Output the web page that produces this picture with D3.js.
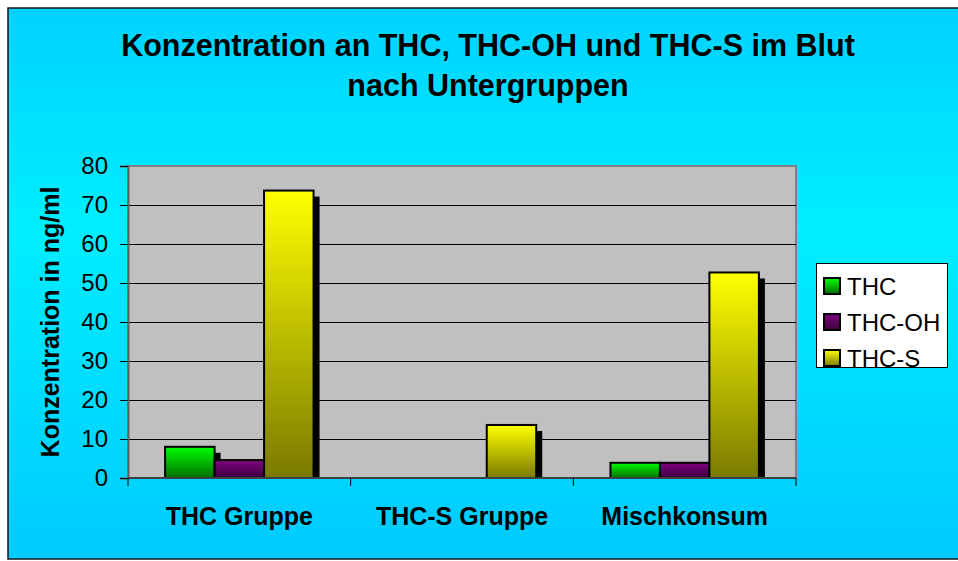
<!DOCTYPE html>
<meta charset="utf-8">
<style>
body { margin: 0; background: #fff; }
text { font-family: "Liberation Sans", Arial, sans-serif; fill: #000; }
</style>
<svg width="958" height="561"></svg>
<script src="https://d3js.org/d3.v7.min.js"></script>
<script>
// data
var categories = ["THC Gruppe", "THC-S Gruppe", "Mischkonsum"];
var series = ["THC", "THC-OH", "THC-S"];
var thc   = [8.0, 0, 3.9];
var thcOH = [4.6, 0, 3.9];
var thcS  = [73.7, 13.6, 52.7];
var yTicks = [0, 10, 20, 30, 40, 50, 60, 70, 80];
var titleLines = ["Konzentration an THC, THC-OH und THC-S im Blut", "nach Untergruppen"];

var values = [thc, thcOH, thcS];
var topColors = ["#00ff00", "#800080", "#ffff00"];
var bottomColors = ["#006e00", "#3c003c", "#7a7a00"];

var svg = d3.select("svg");
var defs = svg.append("defs");

// background gradient of the chart area
var bg = defs.append("linearGradient").attr("id", "bg")
    .attr("x1", 0).attr("y1", 0).attr("x2", 0).attr("y2", 1);
bg.append("stop").attr("offset", "0%").attr("stop-color", "#00d2ff");
bg.append("stop").attr("offset", "40%").attr("stop-color", "#00eeff");
bg.append("stop").attr("offset", "100%").attr("stop-color", "#00caff");

// one gradient per series, bright on top, dark at the bottom
series.forEach(function(s, i) {
  var g = defs.append("linearGradient").attr("id", "grad" + i)
      .attr("x1", 0).attr("y1", 0).attr("x2", 0).attr("y2", 1);
  g.append("stop").attr("offset", "0%").attr("stop-color", topColors[i]);
  g.append("stop").attr("offset", "100%").attr("stop-color", bottomColors[i]);
});

svg.append("rect")
    .attr("x", 8).attr("y", 8).attr("width", 960).attr("height", 551)
    .attr("fill", "url(#bg)")
    .attr("stroke", "#0a1a20").attr("stroke-width", 1.5);

// title
svg.append("text")
    .attr("text-anchor", "middle")
    .style("font-weight", "bold").style("font-size", "30.5px")
  .selectAll("tspan")
  .data(titleLines)
  .enter().append("tspan")
    .attr("x", 488)
    .attr("y", function(d, i) { return 56 + i * 40; })
    .text(function(d) { return d; });

// scales
var x = d3.scaleBand().domain(categories).range([128, 796]);
var xs = d3.scaleBand().domain(series).range([0, x.bandwidth()]).paddingOuter(0.75);
var y = d3.scaleLinear().domain([0, 80]).range([478, 166]);

// plot area
svg.append("rect")
    .attr("x", 128).attr("y", y(80))
    .attr("width", 796 - 128).attr("height", y(0) - y(80))
    .attr("fill", "#c0c0c0")
    .attr("stroke", "#808080").attr("stroke-width", 2);

// gridlines
svg.append("g")
  .selectAll("line")
  .data(yTicks.filter(function(d) { return d > 0 && d < 80; }))
  .enter().append("line")
    .attr("x1", 128).attr("x2", 796)
    .attr("y1", function(d) { return y(d) + 0.5; })
    .attr("y2", function(d) { return y(d) + 0.5; })
    .attr("stroke", "#000").attr("stroke-width", 1);

// bars with a dropped shadow
series.forEach(function(s, i) {
  var g = svg.append("g");
  var rows = categories.map(function(c, j) { return {c: c, v: values[i][j]}; })
      .filter(function(d) { return d.v > 0; });

  g.selectAll("rect.shadow")
    .data(rows)
    .enter().append("rect")
      .attr("class", "shadow")
      .attr("x", function(d) { return x(d.c) + xs(s) + 6; })
      .attr("y", function(d) { return y(d.v) + 6; })
      .attr("width", xs.bandwidth())
      .attr("height", function(d) { return Math.max(0, y(0) - y(d.v) - 6); })
      .attr("fill", "#000");

  g.selectAll("rect.bar")
    .data(rows)
    .enter().append("rect")
      .attr("class", "bar")
      .attr("x", function(d) { return x(d.c) + xs(s); })
      .attr("y", function(d) { return y(d.v); })
      .attr("width", xs.bandwidth())
      .attr("height", function(d) { return y(0) - y(d.v); })
      .attr("fill", "url(#grad" + i + ")")
      .attr("stroke", "#000").attr("stroke-width", 2);
});

// y axis
var yAxis = svg.append("g")
    .attr("transform", "translate(128,0)")
    .call(d3.axisLeft(y).tickValues(yTicks).tickSize(8).tickPadding(12));
yAxis.select(".domain").attr("stroke", "#606060").attr("stroke-width", 2);
yAxis.selectAll(".tick text")
    .style("font-size", "24px")
    .style("font-family", '"Liberation Sans", Arial, sans-serif');

// x axis line and category boundary ticks
svg.append("line")
    .attr("x1", 128).attr("x2", 796)
    .attr("y1", y(0)).attr("y2", y(0))
    .attr("stroke", "#404040").attr("stroke-width", 2);
svg.append("g")
  .selectAll("line")
  .data(categories.map(function(c) { return x(c); }).concat([x.range()[1]]))
  .enter().append("line")
    .attr("x1", function(d) { return d; }).attr("x2", function(d) { return d; })
    .attr("y1", y(0)).attr("y2", y(0) + 8)
    .attr("stroke", "#000").attr("stroke-width", 1);

svg.append("g")
  .selectAll("text")
  .data(categories)
  .enter().append("text")
    .attr("x", function(d) { return x(d) + x.bandwidth() / 2; })
    .attr("y", 525)
    .attr("text-anchor", "middle")
    .style("font-weight", "bold").style("font-size", "25px")
    .text(function(d) { return d; });

// y axis title
svg.append("text")
    .attr("transform", "translate(59,322) rotate(-90)")
    .attr("text-anchor", "middle")
    .style("font-weight", "bold").style("font-size", "25px")
    .text("Konzentration in ng/ml");

// legend
var legend = svg.append("g");
legend.append("rect")
    .attr("x", 816.5).attr("y", 263.5).attr("width", 131).attr("height", 104)
    .attr("fill", "#fff").attr("stroke", "#000").attr("stroke-width", 1);
var item = legend.selectAll("g.item")
    .data(series)
  .enter().append("g")
    .attr("class", "item")
    .attr("transform", function(d, i) { return "translate(824," + (286 + i * 36) + ")"; });
item.append("rect")
    .attr("x", 0).attr("y", -8).attr("width", 16).attr("height", 16)
    .attr("fill", function(d, i) { return "url(#grad" + i + ")"; })
    .attr("stroke", "#000").attr("stroke-width", 2);
item.append("text")
    .attr("x", 23).attr("dy", "0.36em")
    .style("font-size", "24px")
    .text(function(d) { return d; });
</script>
